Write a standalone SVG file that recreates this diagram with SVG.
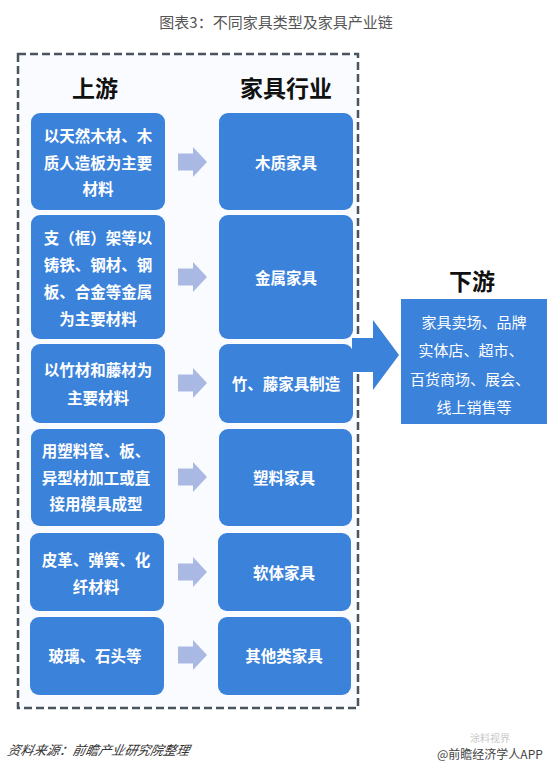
<svg xmlns="http://www.w3.org/2000/svg" width="553" height="768" viewBox="0 0 553 768">
<defs>
<style>
.box{fill:#3b82db}
.bt{font-family:"Noto Sans CJK SC","Noto Sans",sans-serif;font-size:15.5px;font-weight:bold;fill:#ffffff;text-anchor:middle;dominant-baseline:central}
.dt{font-family:"Noto Sans CJK SC","Noto Sans",sans-serif;font-size:15px;fill:#ffffff;text-anchor:middle;dominant-baseline:central}
.hd{font-family:"Noto Sans CJK SC","Noto Sans",sans-serif;font-size:23px;font-weight:bold;fill:#111111;text-anchor:middle;dominant-baseline:central}
.sa{fill:#a9b9e4}
</style>
<polygon id="sarrow" points="0,-8.5 15,-8.5 15,-15 29,0 15,15 15,8.5 0,8.5"/>
</defs>
<rect width="553" height="768" fill="#ffffff"/>
<text x="276" y="21" font-family="'Noto Sans CJK SC','Noto Sans',sans-serif" font-size="15" fill="#555555" text-anchor="middle" dominant-baseline="central">图表3：不同家具类型及家具产业链</text>
<rect x="18" y="54" width="340" height="654" fill="#f9fbfe" stroke="#4a545e" stroke-width="2.5" stroke-dasharray="8 4"/>
<text class="hd" x="95" y="87">上游</text>
<text class="hd" x="286" y="87">家具行业</text>
<text class="hd" x="472" y="280">下游</text>
<g id="connectors">
<use href="#sarrow" class="sa" x="178" y="162"/>
<use href="#sarrow" class="sa" x="178" y="277"/>
<use href="#sarrow" class="sa" x="178" y="383"/>
<use href="#sarrow" class="sa" x="178" y="477"/>
<use href="#sarrow" class="sa" x="178" y="572"/>
<use href="#sarrow" class="sa" x="178" y="655"/>
</g>
<g id="u1"><rect class="box" x="31" y="113" width="134" height="97" rx="9"/>
<text class="bt" x="98" y="135">以天然木材、木</text><text class="bt" x="98" y="162">质人造板为主要</text><text class="bt" x="98" y="188">材料</text></g>
<g id="u2"><rect class="box" x="31" y="215" width="134" height="124" rx="9"/>
<text class="bt" x="98" y="237">支（框）架等以</text><text class="bt" x="98" y="264">铸铁、钢材、钢</text><text class="bt" x="98" y="291">板、合金等金属</text><text class="bt" x="98" y="318">为主要材料</text></g>
<g id="u3"><rect class="box" x="31" y="344" width="134" height="79" rx="9"/>
<text class="bt" x="98" y="369">以竹材和藤材为</text><text class="bt" x="98" y="397">主要材料</text></g>
<g id="u4"><rect class="box" x="31" y="429" width="134" height="97" rx="9"/>
<text class="bt" x="96" y="450">用塑料管、板、</text><text class="bt" x="96" y="477">异型材加工或直</text><text class="bt" x="96" y="503">接用模具成型</text></g>
<g id="u5"><rect class="box" x="30" y="533" width="134" height="78" rx="9"/>
<text class="bt" x="96" y="559">皮革、弹簧、化</text><text class="bt" x="96" y="586">纤材料</text></g>
<g id="u6"><rect class="box" x="30" y="617" width="134" height="78" rx="9"/>
<text class="bt" x="95" y="655">玻璃、石头等</text></g>
<g id="m1"><rect class="box" x="219" y="113" width="134" height="97" rx="9"/><text class="bt" x="286" y="162">木质家具</text></g>
<g id="m2"><rect class="box" x="219" y="215" width="134" height="124" rx="9"/><text class="bt" x="286" y="277">金属家具</text></g>
<g id="m3"><rect class="box" x="219" y="344" width="134" height="79" rx="9"/><text class="bt" x="286" y="383">竹、藤家具制造</text></g>
<g id="m4"><rect class="box" x="219" y="429" width="133" height="97" rx="9"/><text class="bt" x="284" y="477">塑料家具</text></g>
<g id="m5"><rect class="box" x="218" y="533" width="133" height="78" rx="9"/><text class="bt" x="284" y="572">软体家具</text></g>
<g id="m6"><rect class="box" x="218" y="617" width="133" height="78" rx="9"/><text class="bt" x="284" y="655">其他类家具</text></g>
<g id="bigarrow"><polygon points="352,338 373,338 373,320 399,355 373,390 373,372 352,372" fill="#3b82db"/></g>
<g id="down"><rect x="401" y="299" width="146" height="125" fill="#3b82db"/>
<text class="dt" x="474" y="321">家具卖场、品牌</text><text class="dt" x="471" y="349">实体店、超市、</text><text class="dt" x="470" y="378">百货商场、展会、</text><text class="dt" x="474" y="406">线上销售等</text></g>
<text x="8" y="750" font-family="'Noto Sans CJK SC','Noto Sans',sans-serif" font-size="13" font-style="italic" fill="#333333" dominant-baseline="central" transform="skewX(-12)" style="transform-origin:8px 750px">资料来源：前瞻产业研究院整理</text>
<text x="470" y="737" font-family="'Noto Sans CJK SC','Noto Sans',sans-serif" font-size="10" fill="#c8c8c8" dominant-baseline="central">涂料视界</text>
<text x="437" y="753" font-family="'Noto Sans CJK SC','Noto Sans',sans-serif" font-size="12" fill="#444444" dominant-baseline="central">@前瞻经济学人APP</text>
</svg>
